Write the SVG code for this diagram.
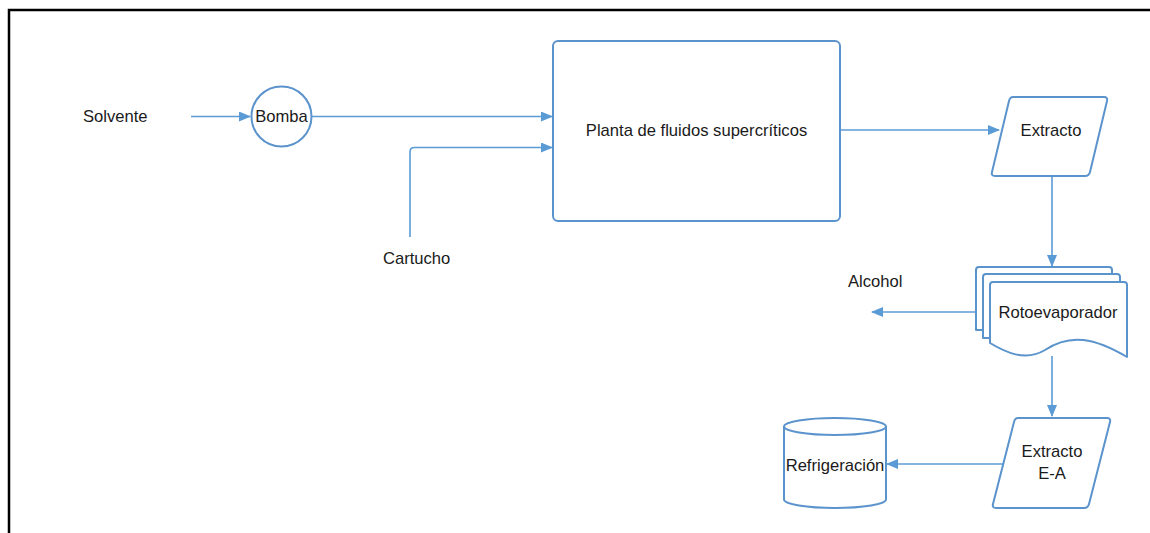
<svg xmlns="http://www.w3.org/2000/svg" width="1150" height="533" viewBox="0 0 1150 533">
<defs>
<style>
.shape{fill:#fff;stroke:#5b93cc;stroke-width:2;stroke-linejoin:round}
.line{fill:none;stroke:#5b9bd5;stroke-width:1.6}
text{font-family:"Liberation Sans",Arial,sans-serif;font-size:16.6px;fill:#1a1a1a}
.c{text-anchor:middle}
</style>
<marker id="arr" markerWidth="12" markerHeight="10" refX="11" refY="5" orient="auto" markerUnits="userSpaceOnUse">
<path d="M0,0 L12,5 L0,10 Z" fill="#5b9bd5"/>
</marker>
</defs>
<rect width="1150" height="533" fill="#fff"/>
<rect x="9" y="10" width="1160" height="540" fill="none" stroke="#000" stroke-width="2.5"/>

<g id="connectors">
<path class="line" d="M191,116.5 H250" marker-end="url(#arr)"/>
<path class="line" d="M312,116.5 H552" marker-end="url(#arr)"/>
<path class="line" d="M410,237 V152 Q410,147.5 414.5,147.5 H552" marker-end="url(#arr)"/>
<path class="line" d="M841,130 H999" marker-end="url(#arr)"/>
<path class="line" d="M1052,176 V266" marker-end="url(#arr)"/>
<path class="line" d="M976,312 H872" marker-end="url(#arr)"/>
<path class="line" d="M1052,356 V416" marker-end="url(#arr)"/>
<path class="line" d="M1004,464 H887" marker-end="url(#arr)"/>
</g>

<g id="solvente"><text x="83" y="122">Solvente</text></g>

<g id="bomba">
<circle class="shape" cx="281.5" cy="116.5" r="30"/>
<text class="c" x="281.5" y="122">Bomba</text>
</g>

<g id="cartucho"><text x="383" y="264">Cartucho</text></g>

<g id="planta">
<rect class="shape" x="553" y="41" width="287" height="180" rx="5"/>
<text class="c" x="696.5" y="136">Planta de fluidos supercríticos</text>
</g>

<g id="extracto">
<path class="shape" d="M1013,97 H1104 Q1108,97 1107,101 L1090,172 Q1089,176 1085,176 H995 Q991,176 992,172 L1009,101 Q1010,97 1013,97 Z"/>
<text class="c" x="1051" y="136">Extracto</text>
</g>

<g id="rotoevaporador">
<path class="shape" d="M979,267 H1109 Q1112,267 1112,270 V330 L976,330 V270 Q976,267 979,267 Z"/>
<path class="shape" d="M986,274 H1117 Q1120,274 1120,277 V338 L983,338 V277 Q983,274 986,274 Z"/>
<path class="shape" d="M993,282 H1124 Q1127,282 1127,285 V357 C1095,338 1070,333 1045,350 C1025,362 1005,352 990,343 V285 Q990,282 993,282 Z"/>
<text class="c" x="1058" y="318">Rotoevaporador</text>
</g>

<g id="alcohol"><text x="848" y="287">Alcohol</text></g>

<g id="extracto-ea">
<path class="shape" d="M1018,418 H1107 Q1111,418 1110,422 L1089,504 Q1088,508 1084,508 H996 Q992,508 993,504 L1014,422 Q1015,418 1018,418 Z"/>
<text class="c" x="1052" y="457">Extracto</text>
<text class="c" x="1052" y="479">E-A</text>
</g>

<g id="refrigeracion">
<path class="shape" d="M784,426.5 V499.5 A51,8.5 0 0 0 886,499.5 V426.5"/>
<ellipse class="shape" cx="835" cy="426.5" rx="51" ry="8.5"/>
<text class="c" x="835" y="471">Refrigeración</text>
</g>
</svg>
